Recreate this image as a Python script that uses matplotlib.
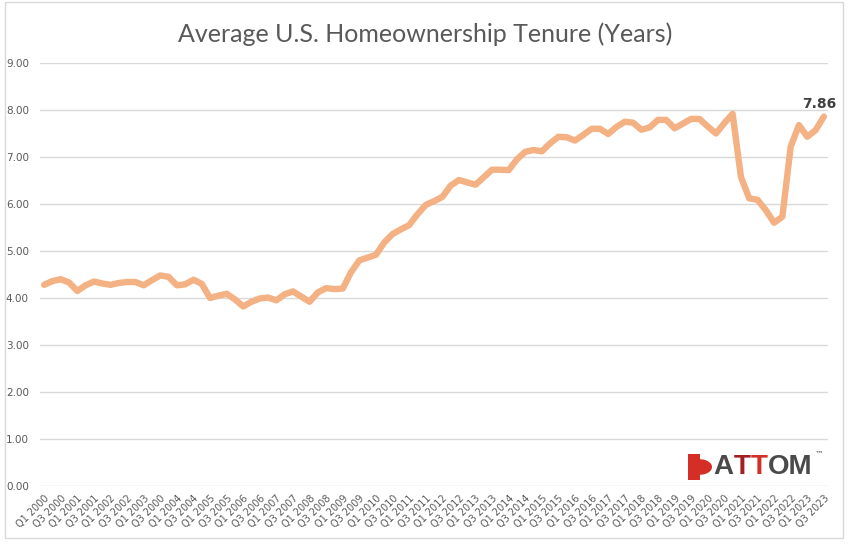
import matplotlib
matplotlib.use("Agg")
import matplotlib.pyplot as plt
from matplotlib.patches import Rectangle, Wedge

title = "Average U.S. Homeownership Tenure (Years)"

# Tick labels as printed in the original (note the original shows "Q3 2000" in place of Q3 2003)
tick_labels = ["Q1 2000", "Q3 2000", "Q1 2001", "Q3 2001", "Q1 2002", "Q3 2002",
               "Q1 2003", "Q3 2000", "Q1 2004", "Q3 2004", "Q1 2005", "Q3 2005",
               "Q1 2006", "Q3 2006", "Q1 2007", "Q3 2007", "Q1 2008", "Q3 2008",
               "Q1 2009", "Q3 2009", "Q1 2010", "Q3 2010", "Q1 2011", "Q3 2011",
               "Q1 2012", "Q3 2012", "Q1 2013", "Q3 2013", "Q1 2014", "Q3 2014",
               "Q1 2015", "Q3 2015", "Q1 2016", "Q3 2016", "Q1 2017", "Q3 2017",
               "Q1 2018", "Q3 2018", "Q1 2019", "Q3 2019", "Q1 2020", "Q3 2020",
               "Q1 2021", "Q3 2021", "Q1 2022", "Q3 2022", "Q1 2023", "Q3 2023"]

tenure = [4.28, 4.36, 4.40, 4.33, 4.15, 4.27, 4.35, 4.31, 4.28, 4.32,
          4.34, 4.34, 4.27, 4.38, 4.48, 4.45, 4.27, 4.29, 4.39, 4.30,
          4.00, 4.05, 4.09, 3.97, 3.82, 3.92, 3.99, 4.01, 3.95, 4.08,
          4.14, 4.03, 3.92, 4.12, 4.21, 4.19, 4.20, 4.55, 4.80, 4.86,
          4.92, 5.18, 5.36, 5.46, 5.55, 5.78, 5.98, 6.06, 6.15, 6.39,
          6.51, 6.46, 6.41, 6.57, 6.73, 6.73, 6.72, 6.95, 7.11, 7.15,
          7.12, 7.29, 7.43, 7.42, 7.35, 7.47, 7.60, 7.60, 7.49, 7.64,
          7.75, 7.73, 7.58, 7.63, 7.79, 7.79, 7.61, 7.71, 7.81, 7.81,
          7.65, 7.50, 7.72, 7.92, 6.58, 6.12, 6.09, 5.87, 5.60, 5.73,
          7.22, 7.68, 7.43, 7.57, 7.86]

yticks = [0, 1, 2, 3, 4, 5, 6, 7, 8, 9]

logo_parts = [("A", "#4A4A4A"), ("T", "#A31F24"), ("T", "#D42E27"), ("OM", "#4A4A4A")]

W, H = 851, 548
fig = plt.figure(figsize=(W / 100, H / 100), dpi=100)
fig.patch.set_facecolor("white")

# outer chart border
fig.add_artist(Rectangle((5 / W, 1 - 538 / H), 838 / W, 536 / H, transform=fig.transFigure,
                         fill=False, edgecolor="#D9D9D9", linewidth=1.0))

ax = fig.add_axes([40 / W, (H - 486) / H, 788 / W, 423 / H])
x = list(range(len(tenure)))
ax.plot(x, tenure, color="#F4B183", linewidth=4.6, solid_joinstyle="round",
        solid_capstyle="round", zorder=3)

ax.set_xlim(-0.5, len(tenure) - 0.5)
ax.set_ylim(0, 9)
ax.set_yticks(yticks)
ax.set_yticklabels([f"{v:.2f}" for v in yticks])
ax.yaxis.grid(True, color="#D9D9D9", linewidth=1.0)
ax.set_axisbelow(True)
for s in ax.spines.values():
    s.set_visible(False)
ax.tick_params(axis="both", length=0, colors="#595959")
ax.tick_params(axis="y", labelsize=7.5, pad=8)

ax.set_xticks(x[::2])
ax.set_xticklabels(tick_labels, rotation=45, ha="right", rotation_mode="anchor",
                   fontsize=7, color="#595959")
ax.tick_params(axis="x", pad=5)

# data label for last point
ax.annotate(f"{tenure[-1]:.2f}", xy=(x[-1], tenure[-1]), xytext=(-3, 4), textcoords="offset points",
            ha="center", va="bottom", fontsize=10, fontweight="bold", color="#404040")

fig.text(425 / W, 1 - 34 / H, title, ha="center", va="center", fontsize=18, color="#595959",
         family=["Lato", "DejaVu Sans"])

# ATTOM logo
fig.add_artist(Wedge((700 / W, 1 - 467 / H), 12 / W, 0, 360, transform=fig.transFigure,
                     facecolor="#D42E27", edgecolor="none"))
fig.add_artist(Rectangle((688 / W, 1 - 480 / H), 12 / W, 26 / H, transform=fig.transFigure,
                         facecolor="#D42E27", edgecolor="none"))
fig.canvas.draw()
renderer = fig.canvas.get_renderer()
cur = 713.0
logo_y = 1 - 467 / H
for txt, col in logo_parts:
    t = fig.text(cur / W, logo_y, txt, fontsize=20, fontweight="bold", color=col,
                 family=["Liberation Sans", "DejaVu Sans"], ha="left", va="center")
    bb = t.get_window_extent(renderer)
    cur += bb.width + 0.5
fig.text((cur + 1) / W, 1 - 454 / H, "™", fontsize=6, color="#4A4A4A", ha="left", va="center")

fig.savefig("out.png", dpi=100, facecolor="white")
